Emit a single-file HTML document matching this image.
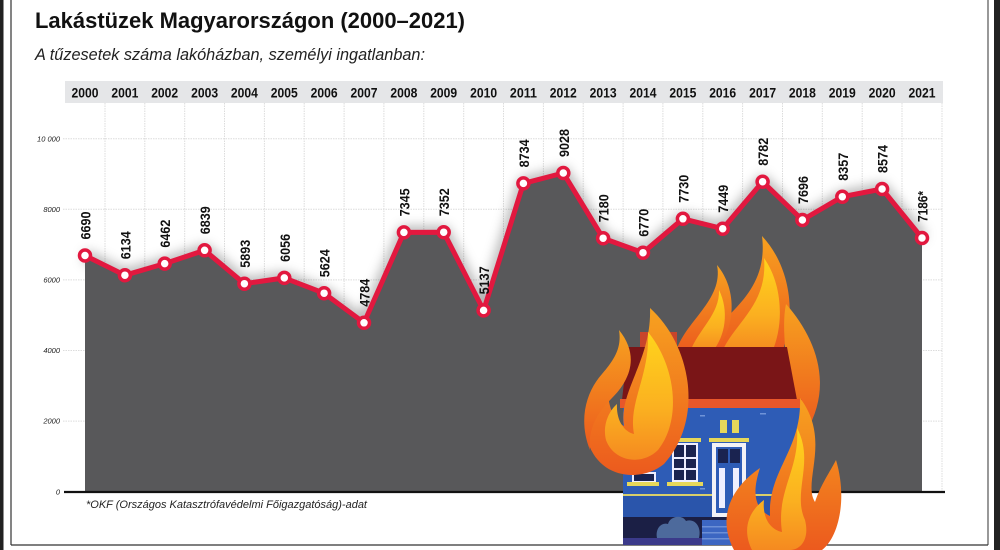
<!DOCTYPE html>
<html><head><meta charset="utf-8"><style>
html,body{margin:0;padding:0;background:#fff;}
svg{display:block;}
text{font-family:"Liberation Sans",Arial,sans-serif;}
</style></head><body>
<svg width="1000" height="550" viewBox="0 0 1000 550" xmlns="http://www.w3.org/2000/svg">
<defs>
<filter id="blur" x="-10%" y="-30%" width="120%" height="160%"><feGaussianBlur stdDeviation="6"/></filter>
<linearGradient id="fo" x1="0" y1="0" x2="0" y2="1"><stop offset="0" stop-color="#f7a21f"/><stop offset="1" stop-color="#ec5a1e"/></linearGradient>
<linearGradient id="fy" x1="0" y1="0" x2="0" y2="1"><stop offset="0" stop-color="#ffd41c"/><stop offset="0.6" stop-color="#fbb020"/><stop offset="1" stop-color="#f58a20"/></linearGradient>
</defs>
<rect x="0" y="0" width="1000" height="550" fill="#fff"/>
<!-- frame -->
<rect x="0" y="0" width="3.5" height="550" fill="#222"/>
<rect x="994" y="0" width="6" height="550" fill="#222"/>
<line x1="11" y1="0" x2="11" y2="545" stroke="#333" stroke-width="1.2"/>
<line x1="988" y1="0" x2="988" y2="545" stroke="#555" stroke-width="1.2"/>
<line x1="11" y1="545" x2="988" y2="545" stroke="#333" stroke-width="1.2"/>

<!-- titles -->
<text x="35" y="28" font-size="22" font-weight="bold" fill="#111" textLength="430" lengthAdjust="spacingAndGlyphs">Lakástüzek Magyarországon (2000–2021)</text>
<text x="35" y="60" font-size="17" font-style="italic" fill="#222" textLength="390" lengthAdjust="spacingAndGlyphs">A tűzesetek száma lakóházban, személyi ingatlanban:</text>

<!-- year band -->
<rect x="65" y="81" width="878" height="22" fill="#e5e6e8"/>
<g font-size="14" font-weight="bold" fill="#111" text-anchor="middle">
<text x="85" y="97.5" textLength="27" lengthAdjust="spacingAndGlyphs">2000</text>
<text x="124.9" y="97.5" textLength="27" lengthAdjust="spacingAndGlyphs">2001</text>
<text x="164.7" y="97.5" textLength="27" lengthAdjust="spacingAndGlyphs">2002</text>
<text x="204.6" y="97.5" textLength="27" lengthAdjust="spacingAndGlyphs">2003</text>
<text x="244.4" y="97.5" textLength="27" lengthAdjust="spacingAndGlyphs">2004</text>
<text x="284.3" y="97.5" textLength="27" lengthAdjust="spacingAndGlyphs">2005</text>
<text x="324.1" y="97.5" textLength="27" lengthAdjust="spacingAndGlyphs">2006</text>
<text x="364.0" y="97.5" textLength="27" lengthAdjust="spacingAndGlyphs">2007</text>
<text x="403.9" y="97.5" textLength="27" lengthAdjust="spacingAndGlyphs">2008</text>
<text x="443.7" y="97.5" textLength="27" lengthAdjust="spacingAndGlyphs">2009</text>
<text x="483.6" y="97.5" textLength="27" lengthAdjust="spacingAndGlyphs">2010</text>
<text x="523.4" y="97.5" textLength="27" lengthAdjust="spacingAndGlyphs">2011</text>
<text x="563.3" y="97.5" textLength="27" lengthAdjust="spacingAndGlyphs">2012</text>
<text x="603.1" y="97.5" textLength="27" lengthAdjust="spacingAndGlyphs">2013</text>
<text x="643.0" y="97.5" textLength="27" lengthAdjust="spacingAndGlyphs">2014</text>
<text x="682.9" y="97.5" textLength="27" lengthAdjust="spacingAndGlyphs">2015</text>
<text x="722.7" y="97.5" textLength="27" lengthAdjust="spacingAndGlyphs">2016</text>
<text x="762.6" y="97.5" textLength="27" lengthAdjust="spacingAndGlyphs">2017</text>
<text x="802.4" y="97.5" textLength="27" lengthAdjust="spacingAndGlyphs">2018</text>
<text x="842.3" y="97.5" textLength="27" lengthAdjust="spacingAndGlyphs">2019</text>
<text x="882.1" y="97.5" textLength="27" lengthAdjust="spacingAndGlyphs">2020</text>
<text x="922.0" y="97.5" textLength="27" lengthAdjust="spacingAndGlyphs">2021</text>
</g>

<!-- grid -->
<g stroke="#dcdcdc" stroke-width="1" stroke-dasharray="1.5,1">
<line x1="105" y1="103" x2="105" y2="492"/><line x1="144.8" y1="103" x2="144.8" y2="492"/><line x1="184.7" y1="103" x2="184.7" y2="492"/><line x1="224.5" y1="103" x2="224.5" y2="492"/><line x1="264.4" y1="103" x2="264.4" y2="492"/><line x1="304.2" y1="103" x2="304.2" y2="492"/><line x1="344.1" y1="103" x2="344.1" y2="492"/><line x1="383.9" y1="103" x2="383.9" y2="492"/><line x1="423.8" y1="103" x2="423.8" y2="492"/><line x1="463.7" y1="103" x2="463.7" y2="492"/><line x1="503.5" y1="103" x2="503.5" y2="492"/><line x1="543.4" y1="103" x2="543.4" y2="492"/><line x1="583.2" y1="103" x2="583.2" y2="492"/><line x1="623.1" y1="103" x2="623.1" y2="492"/><line x1="662.9" y1="103" x2="662.9" y2="492"/><line x1="702.8" y1="103" x2="702.8" y2="492"/><line x1="742.6" y1="103" x2="742.6" y2="492"/><line x1="782.5" y1="103" x2="782.5" y2="492"/><line x1="822.3" y1="103" x2="822.3" y2="492"/><line x1="862.2" y1="103" x2="862.2" y2="492"/><line x1="902.0" y1="103" x2="902.0" y2="492"/><line x1="942" y1="103" x2="942" y2="492"/>
<line x1="63" y1="138.7" x2="943" y2="138.7"/><line x1="63" y1="209.3" x2="943" y2="209.3"/><line x1="63" y1="279.9" x2="943" y2="279.9"/><line x1="63" y1="350.5" x2="943" y2="350.5"/><line x1="63" y1="421.1" x2="943" y2="421.1"/>
</g>
<g font-size="7.5" font-style="italic" fill="#222" text-anchor="end">
<text x="60" y="141.5">10 000</text>
<text x="60" y="212">8000</text>
<text x="60" y="282.5">6000</text>
<text x="60" y="353">4000</text>
<text x="60" y="423.5">2000</text>
<text x="60" y="494.5">0</text>
</g>

<!-- shadow -->
<path d="M85,255.5 L124.9,275.2 L164.7,263.6 L204.6,250.3 L244.4,283.7 L284.3,277.9 L324.1,293.2 L364.0,322.8 L403.9,232.4 L443.7,232.2 L483.6,310.4 L523.4,183.4 L563.3,173.0 L603.1,238.2 L643.0,252.7 L682.9,218.8 L722.7,228.7 L762.6,181.7 L802.4,220.0 L842.3,196.7 L882.1,189.0 L922.0,238.0" fill="none" stroke="#000" stroke-opacity="0.35" stroke-width="10" filter="url(#blur)"/>
<!-- area -->
<path d="M85,492 L85,255.5 L124.9,275.2 L164.7,263.6 L204.6,250.3 L244.4,283.7 L284.3,277.9 L324.1,293.2 L364.0,322.8 L403.9,232.4 L443.7,232.2 L483.6,310.4 L523.4,183.4 L563.3,173.0 L603.1,238.2 L643.0,252.7 L682.9,218.8 L722.7,228.7 L762.6,181.7 L802.4,220.0 L842.3,196.7 L882.1,189.0 L922.0,238.0 L922,492 Z" fill="#58585a"/>
<line x1="64" y1="492" x2="945" y2="492" stroke="#111" stroke-width="2.2"/>

<!-- house illustration -->
<g>
<!-- back flames -->
<path d="M700,352 C712,318 770,300 762,236 C792,268 796,318 782,352 Z" fill="url(#fo)"/>
<path d="M722,352 C735,322 768,305 764,258 C783,285 784,325 772,352 Z" fill="url(#fy)"/>
<path d="M676,352 C684,322 724,300 717,265 C738,290 736,330 714,352 Z" fill="url(#fo)"/>
<path d="M690,352 C698,330 720,314 719,290 C729,310 726,336 712,352 Z" fill="url(#fy)"/>
<path d="M768,425 C800,392 778,342 786,304 C816,338 834,385 806,432 Z" fill="url(#fo)"/>
<!-- chimney -->
<rect x="640" y="332" width="37" height="16" fill="#c9452b"/>
<!-- roof -->
<polygon points="628,347 787,347 797,400 622,400" fill="#7a1517"/>
<rect x="620" y="399" width="182" height="9" fill="#e8572a"/>
<!-- body -->
<rect x="623" y="408" width="177" height="110" fill="#2e5cb6"/>
<g fill="#6f93d8"><rect x="633" y="413" width="6" height="1.5"/><rect x="700" y="415" width="5" height="1.5"/><rect x="760" y="413" width="6" height="1.5"/><rect x="640" y="500" width="6" height="1.5"/><rect x="700" y="488" width="5" height="1.5"/></g>
<rect x="623" y="494" width="177" height="2" fill="#d8cf6a"/>
<rect x="623" y="496" width="177" height="21" fill="#2a55ab"/>
<rect x="623" y="517" width="177" height="21" fill="#1b1f45"/>
<rect x="623" y="538" width="177" height="7" fill="#3b3a8a"/>
<!-- upper yellow windows -->
<rect x="720" y="420" width="7" height="13" fill="#e6d75a"/><rect x="732" y="420" width="7" height="13" fill="#e6d75a"/>
<!-- ledges -->
<rect x="670" y="438" width="31" height="4" fill="#e6d75a"/><rect x="709" y="438" width="40" height="4" fill="#e6d75a"/>
<rect x="667" y="482" width="36" height="4" fill="#e6d75a"/><rect x="627" y="482" width="32" height="4" fill="#e6d75a"/>
<!-- windows -->
<rect x="672" y="443" width="26" height="39" fill="#eef" /><rect x="674" y="445" width="22" height="35" fill="#1a2350"/>
<rect x="684" y="445" width="2" height="35" fill="#eef"/><rect x="674" y="457" width="22" height="2" fill="#eef"/><rect x="674" y="468" width="22" height="2" fill="#eef"/>
<rect x="632" y="472" width="24" height="10" fill="#eef"/><rect x="634" y="474" width="20" height="7" fill="#1a2350"/>
<!-- door -->
<rect x="712" y="443" width="34" height="74" fill="#f2f2f7"/><rect x="716" y="447" width="26" height="66" fill="#2e5cb6"/>
<rect x="718" y="449" width="10" height="14" fill="#1a2350"/><rect x="730" y="449" width="10" height="14" fill="#1a2350"/>
<rect x="719" y="468" width="6" height="40" fill="#eef"/><rect x="733" y="468" width="6" height="40" fill="#eef"/>
<!-- steps -->
<rect x="702" y="520" width="46" height="25" fill="#3c66c2"/><g fill="#6c8fd6"><rect x="702" y="526" width="46" height="1.5"/><rect x="702" y="532" width="46" height="1.5"/><rect x="702" y="538" width="46" height="1.5"/></g>
<!-- bush -->
<path d="M657,538 C655,528 662,522 668,524 C670,516 682,514 686,521 C694,518 702,526 699,538 Z" fill="#4d6a9c"/>
<!-- left flame -->
<path d="M650,308 C692,346 704,420 664,464 C642,482 600,480 588,442 C579,414 596,390 609,378 C605,402 613,420 624,426 C618,392 652,360 650,308 Z" fill="url(#fo)"/>
<path d="M648,332 C676,366 682,420 658,450 C642,466 614,462 606,440 C602,424 610,410 617,404 C616,420 624,432 634,434 C628,402 650,376 648,332 Z" fill="url(#fy)"/>
<path d="M619,330 C640,356 630,380 612,398 C596,414 588,430 590,450 C578,420 586,392 602,374 C614,360 622,348 619,330 Z" fill="url(#fo)"/>
<!-- bottom right flame -->
<path d="M800,398 C832,440 802,482 815,502 C821,484 830,472 836,460 C848,500 838,538 822,550 L734,550 C718,520 728,490 760,468 C750,498 758,510 770,516 C768,470 802,450 800,398 Z" fill="url(#fo)"/>
<path d="M797,428 C815,462 792,492 805,520 C810,540 800,550 790,550 L752,550 C742,530 748,512 764,500 C762,520 772,530 782,532 C776,490 800,470 797,428 Z" fill="url(#fy)"/>
</g>

<!-- line + points -->
<path d="M85,255.5 L124.9,275.2 L164.7,263.6 L204.6,250.3 L244.4,283.7 L284.3,277.9 L324.1,293.2 L364.0,322.8 L403.9,232.4 L443.7,232.2 L483.6,310.4 L523.4,183.4 L563.3,173.0 L603.1,238.2 L643.0,252.7 L682.9,218.8 L722.7,228.7 L762.6,181.7 L802.4,220.0 L842.3,196.7 L882.1,189.0 L922.0,238.0" fill="none" stroke="#e2183f" stroke-width="5" stroke-linejoin="round"/>
<g fill="#fff" stroke="#e2183f" stroke-width="3.5">
<circle cx="85" cy="255.5" r="5.5"/><circle cx="124.9" cy="275.2" r="5.5"/><circle cx="164.7" cy="263.6" r="5.5"/><circle cx="204.6" cy="250.3" r="5.5"/><circle cx="244.4" cy="283.7" r="5.5"/><circle cx="284.3" cy="277.9" r="5.5"/><circle cx="324.1" cy="293.2" r="5.5"/><circle cx="364.0" cy="322.8" r="5.5"/><circle cx="403.9" cy="232.4" r="5.5"/><circle cx="443.7" cy="232.2" r="5.5"/><circle cx="483.6" cy="310.4" r="5.5"/><circle cx="523.4" cy="183.4" r="5.5"/><circle cx="563.3" cy="173.0" r="5.5"/><circle cx="603.1" cy="238.2" r="5.5"/><circle cx="643.0" cy="252.7" r="5.5"/><circle cx="682.9" cy="218.8" r="5.5"/><circle cx="722.7" cy="228.7" r="5.5"/><circle cx="762.6" cy="181.7" r="5.5"/><circle cx="802.4" cy="220.0" r="5.5"/><circle cx="842.3" cy="196.7" r="5.5"/><circle cx="882.1" cy="189.0" r="5.5"/><circle cx="922.0" cy="238.0" r="5.5"/>
</g>

<!-- value labels -->
<g font-size="14" font-weight="bold" fill="#111">
<text transform="translate(90.5,239.5) rotate(-90)" textLength="28" lengthAdjust="spacingAndGlyphs">6690</text>
<text transform="translate(130.4,259.2) rotate(-90)" textLength="28" lengthAdjust="spacingAndGlyphs">6134</text>
<text transform="translate(170.2,247.6) rotate(-90)" textLength="28" lengthAdjust="spacingAndGlyphs">6462</text>
<text transform="translate(210.1,234.3) rotate(-90)" textLength="28" lengthAdjust="spacingAndGlyphs">6839</text>
<text transform="translate(249.9,267.7) rotate(-90)" textLength="28" lengthAdjust="spacingAndGlyphs">5893</text>
<text transform="translate(289.8,261.9) rotate(-90)" textLength="28" lengthAdjust="spacingAndGlyphs">6056</text>
<text transform="translate(329.6,277.2) rotate(-90)" textLength="28" lengthAdjust="spacingAndGlyphs">5624</text>
<text transform="translate(369.5,306.8) rotate(-90)" textLength="28" lengthAdjust="spacingAndGlyphs">4784</text>
<text transform="translate(409.4,216.4) rotate(-90)" textLength="28" lengthAdjust="spacingAndGlyphs">7345</text>
<text transform="translate(449.2,216.2) rotate(-90)" textLength="28" lengthAdjust="spacingAndGlyphs">7352</text>
<text transform="translate(489.1,294.4) rotate(-90)" textLength="28" lengthAdjust="spacingAndGlyphs">5137</text>
<text transform="translate(528.9,167.4) rotate(-90)" textLength="28" lengthAdjust="spacingAndGlyphs">8734</text>
<text transform="translate(568.8,157.0) rotate(-90)" textLength="28" lengthAdjust="spacingAndGlyphs">9028</text>
<text transform="translate(608.6,222.2) rotate(-90)" textLength="28" lengthAdjust="spacingAndGlyphs">7180</text>
<text transform="translate(648.5,236.7) rotate(-90)" textLength="28" lengthAdjust="spacingAndGlyphs">6770</text>
<text transform="translate(688.4,202.8) rotate(-90)" textLength="28" lengthAdjust="spacingAndGlyphs">7730</text>
<text transform="translate(728.2,212.7) rotate(-90)" textLength="28" lengthAdjust="spacingAndGlyphs">7449</text>
<text transform="translate(768.1,165.7) rotate(-90)" textLength="28" lengthAdjust="spacingAndGlyphs">8782</text>
<text transform="translate(807.9,204.0) rotate(-90)" textLength="28" lengthAdjust="spacingAndGlyphs">7696</text>
<text transform="translate(847.8,180.7) rotate(-90)" textLength="28" lengthAdjust="spacingAndGlyphs">8357</text>
<text transform="translate(887.6,173.0) rotate(-90)" textLength="28" lengthAdjust="spacingAndGlyphs">8574</text>
<text transform="translate(927.5,222.0) rotate(-90)" textLength="31" lengthAdjust="spacingAndGlyphs">7186*</text>
</g>

<!-- footnote -->
<text x="86" y="508" font-size="11" font-style="italic" fill="#222" textLength="281" lengthAdjust="spacingAndGlyphs">*OKF (Országos Katasztrófavédelmi Főigazgatóság)-adat</text>
</svg>
</body></html>
